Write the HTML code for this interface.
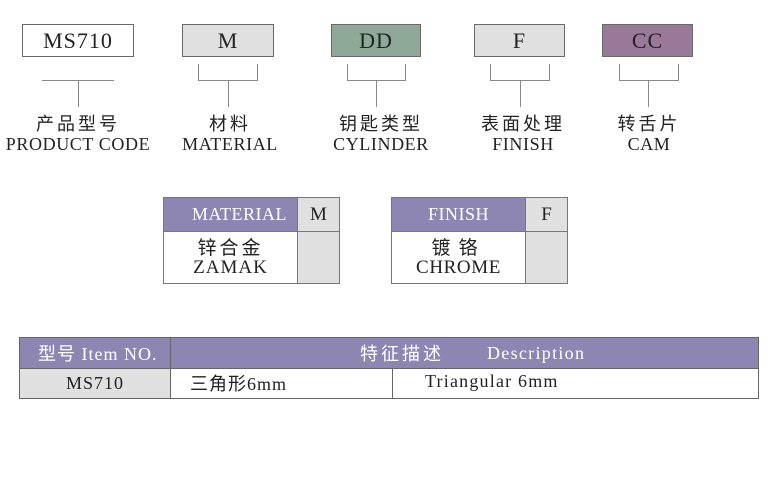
<!DOCTYPE html>
<html><head><meta charset="utf-8"><style>
body{margin:0;width:778px;height:500px;background:#fff;position:relative;overflow:hidden;font-family:"Liberation Serif","Noto Serif CJK SC",serif;color:#222}
.a{position:absolute;box-sizing:border-box}
.box{border:1px solid #6a6a6a;text-align:center;font-size:22px;line-height:31px;letter-spacing:1px}
.ln{position:absolute;background:#888}
.lbl{position:absolute;text-align:center;width:170px}
.cn{font-family:"Noto Sans CJK SC",sans-serif;font-size:18px;line-height:21px;letter-spacing:3px}
.en{font-size:18px;line-height:20px;letter-spacing:0.6px}
.pur{background:#8d86b2;color:#fff}
.gr{background:#e0e0e0}
</style></head><body>
<div class="a box" style="left:22px;top:24px;width:112px;height:33px;background:#fff">MS710</div>
<div class="a box gr" style="left:182px;top:24px;width:92px;height:33px">M</div>
<div class="a box" style="left:331px;top:24px;width:90px;height:33px;background:#8fa999">DD</div>
<div class="a box gr" style="left:474px;top:24px;width:91px;height:33px">F</div>
<div class="a box" style="left:602px;top:24px;width:91px;height:33px;background:#9a7899">CC</div>

<div class="ln" style="left:42px;top:80px;width:72px;height:1px"></div>
<div class="ln" style="left:78px;top:80px;width:1px;height:27px"></div>

<div class="ln" style="left:198px;top:64px;width:1px;height:17px"></div>
<div class="ln" style="left:257px;top:64px;width:1px;height:17px"></div>
<div class="ln" style="left:198px;top:80px;width:60px;height:1px"></div>
<div class="ln" style="left:228px;top:80px;width:1px;height:27px"></div>

<div class="ln" style="left:347px;top:64px;width:1px;height:17px"></div>
<div class="ln" style="left:405px;top:64px;width:1px;height:17px"></div>
<div class="ln" style="left:347px;top:80px;width:59px;height:1px"></div>
<div class="ln" style="left:376px;top:80px;width:1px;height:27px"></div>

<div class="ln" style="left:490px;top:64px;width:1px;height:17px"></div>
<div class="ln" style="left:549px;top:64px;width:1px;height:17px"></div>
<div class="ln" style="left:490px;top:80px;width:60px;height:1px"></div>
<div class="ln" style="left:520px;top:80px;width:1px;height:27px"></div>

<div class="ln" style="left:619px;top:64px;width:1px;height:17px"></div>
<div class="ln" style="left:678px;top:64px;width:1px;height:17px"></div>
<div class="ln" style="left:619px;top:80px;width:60px;height:1px"></div>
<div class="ln" style="left:648px;top:80px;width:1px;height:27px"></div>

<div class="lbl" style="left:-7px;top:113px"><div class="cn">产品型号</div><div class="en">PRODUCT CODE</div></div>
<div class="lbl" style="left:145px;top:113px"><div class="cn">材料</div><div class="en">MATERIAL</div></div>
<div class="lbl" style="left:296px;top:113px"><div class="cn">钥匙类型</div><div class="en">CYLINDER</div></div>
<div class="lbl" style="left:438px;top:113px"><div class="cn">表面处理</div><div class="en">FINISH</div></div>
<div class="lbl" style="left:564px;top:113px"><div class="cn">转舌片</div><div class="en">CAM</div></div>

<!-- material -->
<div class="a" style="left:163px;top:197px;width:177px;height:87px;border:1px solid #777"></div>
<div class="a pur" style="left:164px;top:198px;width:133px;height:33px;text-align:right;padding-right:10px;font-size:18px;line-height:33px;letter-spacing:0.5px">MATERIAL</div>
<div class="a gr" style="left:297px;top:198px;width:42px;height:85px;border-left:1px solid #777"></div>
<div class="a" style="left:297px;top:198px;width:42px;height:34px;border-bottom:1px solid #777;border-left:1px solid #777;text-align:center;font-size:19px;line-height:33px">M</div>
<div class="ln" style="left:164px;top:231px;width:133px;height:1px;background:#777"></div>
<div class="a" style="left:164px;top:236px;width:133px;text-align:center"><div class="cn" style="font-size:19px;line-height:22px">锌合金</div><div class="en" style="font-size:19px;line-height:20px;letter-spacing:1px">ZAMAK</div></div>

<!-- finish -->
<div class="a" style="left:391px;top:197px;width:177px;height:87px;border:1px solid #777"></div>
<div class="a pur" style="left:392px;top:198px;width:133px;height:33px;text-align:center;font-size:18px;line-height:33px;letter-spacing:0.5px">FINISH</div>
<div class="a gr" style="left:525px;top:198px;width:42px;height:85px;border-left:1px solid #777"></div>
<div class="a" style="left:525px;top:198px;width:42px;height:34px;border-bottom:1px solid #777;border-left:1px solid #777;text-align:center;font-size:19px;line-height:33px">F</div>
<div class="ln" style="left:392px;top:231px;width:133px;height:1px;background:#777"></div>
<div class="a" style="left:392px;top:236px;width:133px;text-align:center"><div class="cn" style="font-size:19px;line-height:22px;letter-spacing:8px">镀铬</div><div class="en" style="font-size:19px;line-height:20px">CHROME</div></div>

<!-- bottom table -->
<div class="a" style="left:19px;top:337px;width:740px;height:62px;border:1px solid #666"></div>
<div class="a pur" style="left:20px;top:338px;width:738px;height:30px"></div>
<div class="a" style="left:38px;top:338px;width:140px;height:30px;color:#fff;font-size:18px;line-height:30px;letter-spacing:1px;white-space:nowrap"><span style="font-family:'Noto Sans CJK SC',sans-serif;font-size:18px">型号</span> Item NO.</div>
<div class="a" style="left:360px;top:338px;width:100px;height:30px;color:#fff;font-family:'Noto Sans CJK SC',sans-serif;font-size:18px;line-height:30px;letter-spacing:3px">特征描述</div>
<div class="a" style="left:487px;top:338px;width:150px;height:30px;color:#fff;font-size:18px;line-height:30px;letter-spacing:1.3px">Description</div>
<div class="a gr" style="left:20px;top:368px;width:150px;height:30px;text-align:center;font-size:18px;line-height:30px;letter-spacing:1px">MS710</div>
<div class="ln" style="left:20px;top:368px;width:738px;height:1px;background:#666"></div>
<div class="ln" style="left:170px;top:338px;width:1px;height:60px;background:#666"></div>
<div class="ln" style="left:392px;top:368px;width:1px;height:30px;background:#666"></div>
<div class="a" style="left:190px;top:368px;font-size:18px;line-height:30px;letter-spacing:1px;white-space:nowrap"><span style="font-family:'Noto Sans CJK SC',sans-serif;font-size:18px">三角形</span>6mm</div>
<div class="a" style="left:425px;top:367px;font-size:18px;line-height:28px;letter-spacing:1.2px;white-space:nowrap">Triangular 6mm</div>
</body></html>
